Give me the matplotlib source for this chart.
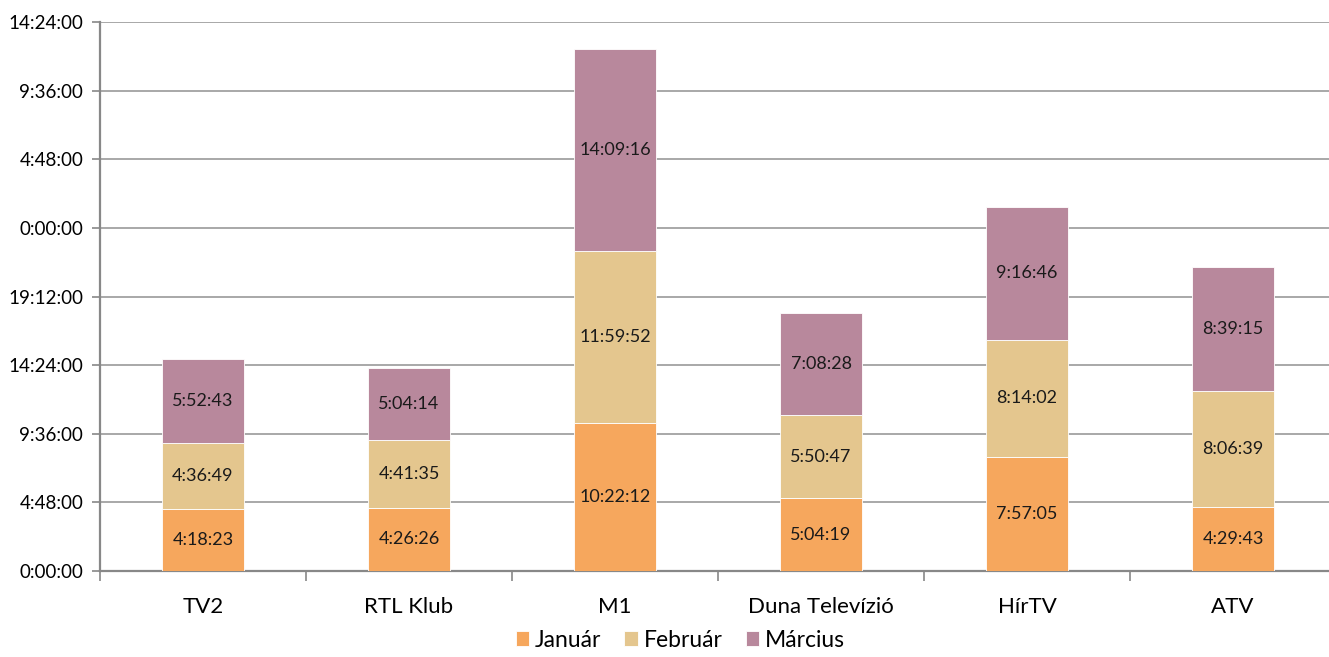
import numpy as np
import matplotlib.pyplot as plt
from matplotlib.ticker import FuncFormatter, MultipleLocator

channels = ['TV2', 'RTL Klub', 'M1', 'Duna Televízió', 'HírTV', 'ATV']
jan = ['4:18:23', '4:26:26', '10:22:12', '5:04:19', '7:57:05', '4:29:43']
feb = ['4:36:49', '4:41:35', '11:59:52', '5:50:47', '8:14:02', '8:06:39']
mar = ['5:52:43', '5:04:14', '14:09:16', '7:08:28', '9:16:46', '8:39:15']
months = ['Január', 'Február', 'Március']
colors = ['#F6A75D', '#E4C68E', '#B8889C']


def to_hours(s):
    h, m, sec = (int(v) for v in s.split(':'))
    return h + m / 60 + sec / 3600


def fmt(v, pos):
    total = int(round(v * 3600)) % (24 * 3600)
    return '%d:%02d:%02d' % (total // 3600, total % 3600 // 60, total % 60)


plt.rcParams['font.family'] = ['Lato', 'DejaVu Sans']

fig = plt.figure(figsize=(13.29, 6.57), dpi=100)
ax = fig.add_axes([100 / 1329, 1 - 571 / 657, 1236 / 1329, 549 / 657])

x = np.arange(len(channels))
bottom = np.zeros(len(channels))
for name, vals, c in zip(months, [jan, feb, mar], colors):
    h = np.array([to_hours(v) for v in vals])
    ax.bar(x, h, 0.4, bottom=bottom, color=c, edgecolor='white', linewidth=0.6,
           label=name, zorder=3)
    for xi, b, hi, lab in zip(x, bottom, h, vals):
        ax.text(xi, b + hi / 2, lab, ha='center', va='center', fontsize=13,
                color='#1a1a1a', zorder=4)
    bottom += h

ax.set_xlim(-0.5, len(channels) - 0.5)
ax.set_ylim(0, 38.4)
ax.yaxis.set_major_locator(MultipleLocator(4.8))
ax.yaxis.set_major_formatter(FuncFormatter(fmt))
ax.grid(axis='y', color='#9a9a9a', linewidth=1.2, zorder=0)

ax.set_xticks(x)
ax.set_xticklabels(channels)
ax.set_xticks(np.arange(len(channels) + 1) - 0.5, minor=True)
ax.tick_params(axis='x', which='major', length=0, pad=19, labelsize=16)
ax.tick_params(axis='x', which='minor', length=7, color='#888888', width=1.2)
ax.tick_params(axis='y', length=6, color='#888888', width=1.2, labelsize=13.5, pad=6)

for s in ['top', 'right']:
    ax.spines[s].set_visible(False)
for s in ['left', 'bottom']:
    ax.spines[s].set_color('#888888')
    ax.spines[s].set_linewidth(1.6)

fig.legend(loc='lower center', bbox_to_anchor=(0.512, -0.022), ncol=3, frameon=False,
           fontsize=16.5, handlelength=0.6, handleheight=0.6, handletextpad=0.25,
           columnspacing=1.0)

fig.savefig('out.png', dpi=100)
